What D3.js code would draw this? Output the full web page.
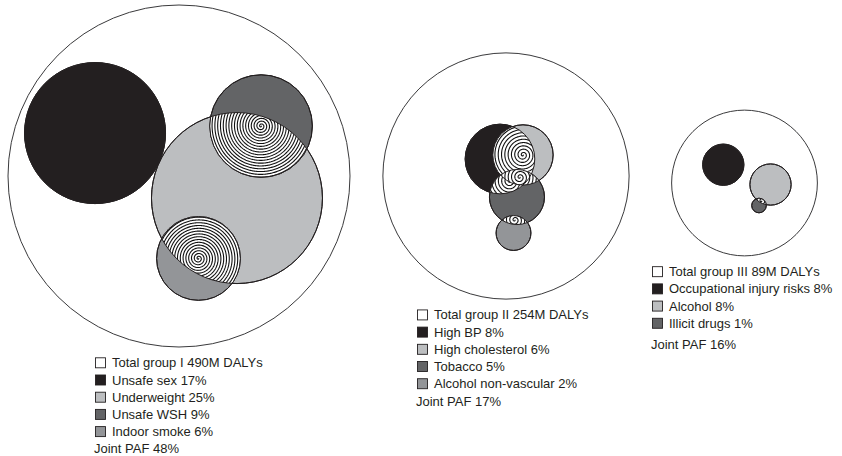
<!DOCTYPE html>
<html><head><meta charset="utf-8">
<script src="https://cdn.jsdelivr.net/npm/d3@7"></script>
<style>
body{margin:0;background:#fff}
svg{display:block}
text{font-family:"Liberation Sans",Arial,Helvetica,sans-serif;font-size:13px;fill:#231f20}
</style>
</head><body>
<svg id="chart" width="842" height="456"></svg>
<script>
// ---------- DATA ----------
const groupLabels = ["Total group I", "Total group II", "Total group III"];
const groupDALYs = [490, 254, 89];              // million DALYs
const jointPAF = [48, 17, 16];                  // %
const factorNames = [
  ["Unsafe sex", "Underweight", "Unsafe WSH", "Indoor smoke"],
  ["High BP", "High cholesterol", "Tobacco", "Alcohol non-vascular"],
  ["Occupational injury risks", "Alcohol", "Illicit drugs"]
];
const factorPAF = [[17, 25, 9, 6], [8, 6, 5, 2], [8, 8, 1]];
const factorShade = [
  ["black", "light", "dark", "mid"],
  ["black", "light", "dark", "mid"],
  ["black", "light", "dark"]
];
// position of each factor circle relative to its group circle (units of group radius)
const factorDX = [[-0.491, 0.339, 0.480, 0.114], [-0.049, 0.138, 0.089, 0.061], [-0.291, 0.357, 0.199]];
const factorDY = [[-0.251, 0.129, -0.292, 0.482], [-0.138, -0.171, 0.171, 0.463], [-0.251, 0.021, 0.309]];
// pairs of factors whose joint effect (overlap) is drawn
const overlaps = [[[1, 2], [1, 3]], [[0, 1], [0, 2], [1, 2], [2, 3]], [[1, 2]]];

// ---------- LAYOUT / STYLE ----------
const groupCX = [179, 506, 744.5];
const groupCY = [176, 176, 183];
const legendX = [95, 417, 652];
const jointExtra = [0, 0.5, 4.5];
const spiralGap = [2.8, 3.3, 3.0];
const shadeColor = {black: "#231f20", light: "#bcbec0", dark: "#636466", mid: "#939598", white: "#ffffff"};
const ink = "#231f20";

const svg = d3.select("#chart");
const rScale = d3.scaleSqrt().domain([0, 490]).range([0, 171]);

function spiralPoints(cx, cy, maxR, spacing) {
  const pts = [];
  const thetaMax = maxR / spacing * 2 * Math.PI;
  let th = 0;
  while (th <= thetaMax) {
    const r = spacing * th / (2 * Math.PI);
    pts.push([cx + r * Math.cos(th), cy + r * Math.sin(th)]);
    th += Math.min(0.25, 0.8 / Math.max(r, 0.5));
  }
  return pts;
}

let clipId = 0;
groupDALYs.forEach((total, g) => {
  const R = rScale(total);
  const cx = groupCX[g], cy = groupCY[g];
  const x = d3.scaleLinear().domain([-1, 1]).range([cx - R, cx + R]);
  const y = d3.scaleLinear().domain([-1, 1]).range([cy - R, cy + R]);
  const G = svg.append("g");

  G.append("circle").attr("cx", cx).attr("cy", cy).attr("r", R)
    .attr("fill", "#fff").attr("stroke", "#3a3a3c").attr("stroke-width", 1);

  const circles = factorNames[g].map((name, i) => ({
    name, pct: factorPAF[g][i], shade: factorShade[g][i],
    x: x(factorDX[g][i]), y: y(factorDY[g][i]),
    r: rScale(total * factorPAF[g][i] / 100)
  }));

  G.selectAll("circle.f").data(circles).join("circle").attr("class", "f")
    .attr("cx", d => d.x).attr("cy", d => d.y).attr("r", d => d.r)
    .attr("fill", d => shadeColor[d.shade]).attr("stroke", ink).attr("stroke-width", 1);

  // overlaps with spiral pattern
  overlaps[g].forEach(([a, b]) => {
    let A = circles[a], B = circles[b];
    let big = A.r >= B.r ? A : B, small = A.r >= B.r ? B : A;
    const dx = small.x - big.x, dy = small.y - big.y;
    const d = Math.hypot(dx, dy);
    let sx, sy;
    if (d < big.r) { sx = small.x; sy = small.y; }
    else {
      const t = (d - small.r + big.r) / 2;
      sx = big.x + dx / d * t; sy = big.y + dy / d * t;
    }
    const idA = "cl" + (clipId++), idB = "cl" + (clipId++);
    const defs = G.append("defs");
    defs.append("clipPath").attr("id", idA).append("circle")
      .attr("cx", A.x).attr("cy", A.y).attr("r", A.r);
    defs.append("clipPath").attr("id", idB).append("circle")
      .attr("cx", B.x).attr("cy", B.y).attr("r", B.r);
    const inner = G.append("g").attr("clip-path", `url(#${idA})`)
      .append("g").attr("clip-path", `url(#${idB})`);
    inner.append("circle").attr("cx", small.x).attr("cy", small.y).attr("r", small.r + 1).attr("fill", "#fff");
    const maxR = Math.hypot(sx - small.x, sy - small.y) + small.r + 2;
    inner.append("path").attr("d", d3.line()(spiralPoints(sx, sy, maxR, spiralGap[g])))
      .attr("fill", "none").attr("stroke", "#111").attr("stroke-width", 1.1);
  });

  // outlines on top
  G.selectAll("circle.o").data(circles).join("circle").attr("class", "o")
    .attr("cx", d => d.x).attr("cy", d => d.y).attr("r", d => d.r)
    .attr("fill", "none").attr("stroke", ink).attr("stroke-width", 1);

  // legend
  const rows = [{label: `${groupLabels[g]} ${total}M DALYs`, shade: "white"}]
    .concat(circles.map(c => ({label: `${c.name} ${c.pct}%`, shade: c.shade})));
  const y0 = cy + R + 15.8, step = 17.2, lx = legendX[g];
  const L = G.append("g");
  rows.forEach((row, i) => {
    const ry = y0 + i * step;
    L.append("rect").attr("x", lx + 0.5).attr("y", ry - 5).attr("width", 10).attr("height", 10)
      .attr("fill", shadeColor[row.shade]).attr("stroke", ink).attr("stroke-width", 0.9);
    L.append("text").attr("x", lx + 17).attr("y", ry + 4.5).text(row.label);
  });
  L.append("text").attr("x", lx - 1)
    .attr("y", y0 + rows.length * step + jointExtra[g] + 4.3)
    .text(`Joint PAF ${jointPAF[g]}%`);
});
</script>
</body></html>
